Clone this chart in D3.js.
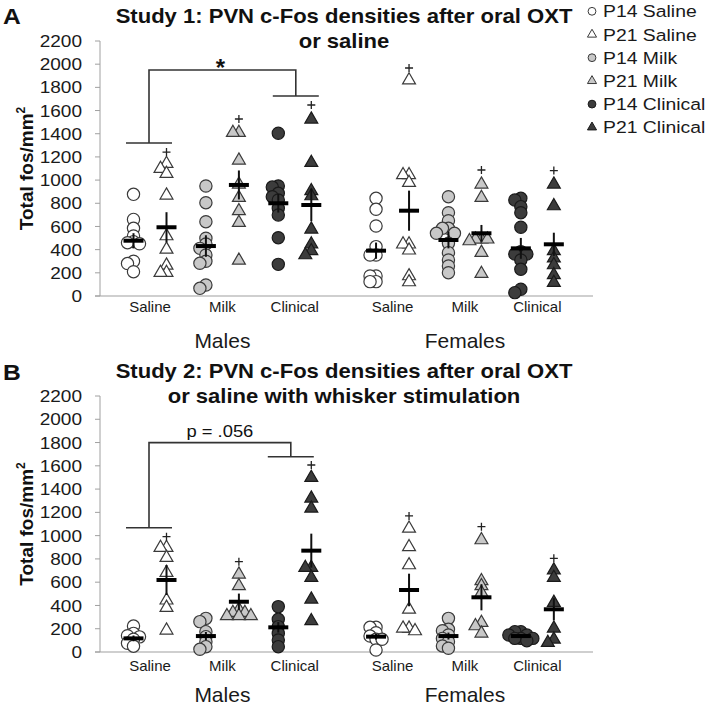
<!DOCTYPE html>
<html><head><meta charset="utf-8">
<script src="https://cdn.jsdelivr.net/npm/d3@7"></script>
<style>
html,body{margin:0;padding:0;background:#fff;}
svg{display:block;font-family:"Liberation Sans",Arial,sans-serif;}
</style></head>
<body>
<svg id="chart" width="716" height="705"></svg>
<script>
// ---------- DATA ----------
const groups = ["Saline","Milk","Clinical","Saline","Milk","Clinical"];
const sexes = ["Males","Females"];
const legendLabels = ["P14 Saline","P21 Saline","P14 Milk","P21 Milk","P14 Clinical","P21 Clinical"];
const yTicks = [0,200,400,600,800,1000,1200,1400,1600,1800,2000,2200];

// Study 1 (panel A)
const s1P14 = [
  [877,661,584,518,469,460,450,300,280,210],
  [949,805,641,498,449,411,354,300,282,95,66],
  [1404,949,940,886,857,828,756,699,503,273],
  [843,748,604,426,354,354,173,173,124,124],
  [857,719,650,584,584,541,541,455,374,311,259,201],
  [843,828,771,719,593,383,362,362,311,230,58,29]
];
const s1P21 = [
  [1150,1107,1064,877,526,411,273,210,210],
  [1418,1418,1179,972,857,742,641,316],
  [1533,1159,915,871,584,455,397,362],
  [1870,1053,1053,986,455,455,403,181,129],
  [972,857,498,498,498,483,383,201],
  [972,785,397,334,276,190,124]
];
const s1MeanP14 = [477,431,800,391,483,411];
const s1MeanP21 = [593,958,785,736,541,446];
const s1SemP14 = [65,93,80,70,72,90];
const s1SemP21 = [130,125,140,173,72,100];
const s1Plus = [1242,1527,1648,1967,1087,1082];
const s1Bracket = {top:1950, left:1320, right:1726, label:"*"};

// Study 2 (panel B)
const s2P14 = [
  [223,160,140,130,110,75,50],
  [289,261,175,132,89,46,23],
  [390,281,218,160,103,46],
  [212,212,166,137,109,109,17],
  [289,195,183,146,117,89,52,32],
  [175,175,146,146,117,117,117,97]
];
const s2P21 = [
  [905,905,819,690,453,390,195],
  [676,576,375,347,347,318,318,318],
  [1507,1329,1243,733,733,647,461,275],
  [1071,911,756,375,212,212,189],
  [971,619,576,518,261,232,169],
  [711,647,433,212,117,89]
];
const s2MeanP14 = [117,137,212,132,137,137];
const s2MeanP21 = [619,432,871,533,470,367];
const s2SemP14 = [25,35,45,25,30,15];
const s2SemP21 = [129,70,146,140,112,95];
const s2Plus = [991,776,1607,1169,1077,805];
const s2Bracket = {top:1799, left:1068, right:1678, label:"p = .056"};

// ---------- DRAW ----------
const svg = d3.select("#chart");
svg.append("rect").attr("width",716).attr("height",705).attr("fill","#fff");

const styles = [
  {fill:"#ffffff", stroke:"#3a3a3a"},
  {fill:"#c8c8c8", stroke:"#3a3a3a"},
  {fill:"#3c3c3c", stroke:"#1a1a1a"}
];
const groupIndex = i => i + (i >= 3 ? 0.35 : 0);
const x = d3.scaleLinear().domain([0,1]).range([150,222.4]);
const ageOffset = 16.5;

function panel(cfg){
  const y = d3.scaleLinear().domain([0,2200]).range([cfg.y0, cfg.y1]);
  const g = svg.append("g");

  // panel letter
  g.append("text").attr("transform",`translate(3,${cfg.letterY}) scale(1.12,1)`)
    .attr("font-size",22).attr("font-weight","bold").attr("fill","#111").text(cfg.letter);
  // title
  cfg.title.forEach((t,i)=>{
    g.append("text").attr("transform",`translate(344,${cfg.titleY[i]}) scale(1.05,1)`)
      .attr("text-anchor","middle").attr("font-size",21).attr("font-weight","bold")
      .attr("fill","#111").text(t);
  });

  // axes
  g.append("line").attr("x1",100).attr("x2",100).attr("y1",y(2200)).attr("y2",y(0))
    .attr("stroke","#a0a0a0").attr("stroke-width",1);
  g.append("line").attr("x1",95).attr("x2",593).attr("y1",y(0)).attr("y2",y(0))
    .attr("stroke","#a0a0a0").attr("stroke-width",1.2);
  yTicks.forEach(t=>{
    g.append("line").attr("x1",95).attr("x2",100).attr("y1",y(t)).attr("y2",y(t))
      .attr("stroke","#a0a0a0");
    g.append("text").attr("transform",`translate(82,${y(t)}) scale(1.12,1)`)
      .attr("text-anchor","end").attr("dy","0.36em").attr("font-size",17)
      .attr("fill","#1a1a1a").text(t);
  });
  // y title
  const yt = g.append("text").attr("transform",`translate(33,${(y(0)+y(2200))/2}) rotate(-90)`)
    .attr("text-anchor","middle").attr("font-size",19).attr("font-weight","bold").attr("fill","#111");
  yt.append("tspan").text("Total fos/mm");
  yt.append("tspan").attr("font-size",12).attr("dy",-8).text("2");

  // category labels
  groups.forEach((c,i)=>{
    g.append("text").attr("x",x(groupIndex(i))).attr("y",y(0)+cfg.catDy)
      .attr("text-anchor","middle").attr("font-size",15).attr("fill","#1a1a1a").text(c);
  });
  sexes.forEach((s,k)=>{
    g.append("text").attr("x",x(groupIndex(1+3*k))).attr("y",cfg.sexY)
      .attr("text-anchor","middle").attr("font-size",21).attr("fill","#1a1a1a").text(s);
  });

  // bracket
  const b = cfg.bracket;
  const xl = x(groupIndex(0)) - 1, xr = x(groupIndex(2)) + cfg.rightShift;
  const path = d3.path();
  path.moveTo(xl-23,y(b.left)); path.lineTo(xl+23,y(b.left));
  path.moveTo(xl,y(b.left)); path.lineTo(xl,y(b.top)); path.lineTo(xr,y(b.top)); path.lineTo(xr,y(b.right));
  path.moveTo(xr-23,y(b.right)); path.lineTo(xr+23,y(b.right));
  g.append("path").attr("d",path.toString()).attr("fill","none").attr("stroke","#333").attr("stroke-width",1.6);
  if (b.label === "*") {
    g.append("text").attr("x",(xl+xr)/2-2).attr("y",y(b.top)+6).attr("text-anchor","middle")
      .attr("font-size",24).attr("font-weight","bold").attr("fill","#111").text(b.label);
  } else {
    g.append("text").attr("transform",`translate(${(xl+xr)/2},${y(b.top)-6}) scale(1.08,1)`)
      .attr("text-anchor","middle").attr("font-size",17).attr("fill","#111").text(b.label);
  }

  // points
  const series = [
    {data:cfg.p14, mean:cfg.m14, sem:cfg.s14, off:-ageOffset, sym:d3.symbolCircle, size:118},
    {data:cfg.p21, mean:cfg.m21, sem:cfg.s21, off: ageOffset, sym:d3.symbolTriangle, size:72}
  ];
  series.forEach((s,si)=>{
    s.data.forEach((vals,gi)=>{
      const cx = x(groupIndex(gi)) + s.off;
      const st = styles[gi % 3];
      const placed = [];
      const sorted = vals.slice().sort((a,b)=>b-a);
      const cands = [0,-6,6,-12,12,-18,18,-24,24];
      sorted.forEach(v=>{
        const py = y(v);
        let dx = 0;
        for (const c of cands){
          if (!placed.some(p=>Math.abs(p.y-py)<5 && Math.abs(p.x-c)<6)) { dx = c; break; }
        }
        placed.push({x:dx,y:py});
        g.append("path").attr("d",d3.symbol().type(s.sym).size(s.size)())
          .attr("transform",`translate(${cx+dx},${py + (si===1?1:0)})`)
          .attr("fill",st.fill).attr("stroke",st.stroke).attr("stroke-width",1.2);
      });
      // SEM & mean
      const m = s.mean[gi], e = s.sem[gi];
      g.append("line").attr("x1",cx).attr("x2",cx).attr("y1",y(m+e)).attr("y2",y(m-e))
        .attr("stroke","#111").attr("stroke-width",2);
      g.append("line").attr("x1",cx-10).attr("x2",cx+10).attr("y1",y(m)).attr("y2",y(m))
        .attr("stroke","#000").attr("stroke-width",4);
    });
  });
  // plus marks above P21
  cfg.plus.forEach((v,gi)=>{
    const cx = x(groupIndex(gi)) + ageOffset, py = y(v);
    g.append("path").attr("d",`M${cx-4},${py}H${cx+4}M${cx},${py-4}V${py+4}`)
      .attr("stroke","#222").attr("stroke-width",1.3);
  });
}

panel({letter:"A", letterY:24, title:["Study 1: PVN c-Fos densities after oral OXT","or saline"], titleY:[23,48],
  y0:296, y1:41, catDy:15.5, sexY:348, bracket:s1Bracket, rightShift:1,
  p14:s1P14, p21:s1P21, m14:s1MeanP14, m21:s1MeanP21, s14:s1SemP14, s21:s1SemP21, plus:s1Plus});
panel({letter:"B", letterY:380, title:["Study 2: PVN c-Fos densities after oral OXT","or saline with whisker stimulation"], titleY:[378,403],
  y0:652, y1:396, catDy:18.5, sexY:702, bracket:s2Bracket, rightShift:-4,
  p14:s2P14, p21:s2P21, m14:s2MeanP14, m21:s2MeanP21, s14:s2SemP14, s21:s2SemP21, plus:s2Plus});

// legend
const lg = svg.append("g");
legendLabels.forEach((l,i)=>{
  const yy = 17.3 + i*23.2;
  const st = styles[Math.floor(i/2)];
  const sym = i%2===0 ? d3.symbolCircle : d3.symbolTriangle;
  lg.append("path").attr("d",d3.symbol().type(sym).size(i%2===0?48:36)())
    .attr("transform",`translate(592,${yy-6})`).attr("fill",st.fill).attr("stroke",st.stroke).attr("stroke-width",1);
  lg.append("text").attr("transform",`translate(603,${yy}) scale(1.14,1)`)
    .attr("font-size",17).attr("fill","#1a1a1a").text(l);
});
</script>
</body></html>
